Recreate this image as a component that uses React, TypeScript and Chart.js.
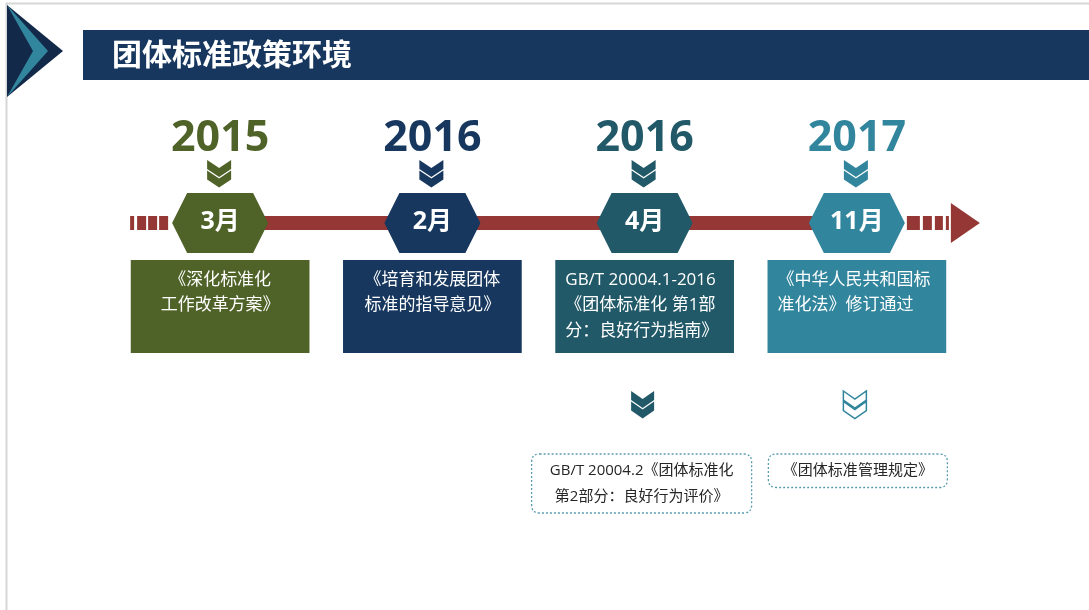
import React, { useEffect, useRef } from "react";
import { Chart, registerables } from "chart.js";

Chart.register(...registerables);

// ---------- data ----------
const title = "团体标准政策环境";
const years = ["2015", "2016", "2016", "2017"];
const months = ["3月", "2月", "4月", "11月"];
const policyLines: string[][] = [
  ["《深化标准化", "工作改革方案》"],
  ["《培育和发展团体", "标准的指导意见》"],
  ["GB/T 20004.1-2016", "《团体标准化 第1部", "分：良好行为指南》"],
  ["《中华人民共和国标", "准化法》修订通过"],
];
const followUpLines: string[][] = [
  [],
  [],
  ["GB/T 20004.2《团体标准化", "第2部分：良好行为评价》"],
  ["《团体标准管理规定》"],
];

// ---------- styles ----------
const colors = ["#4f6228", "#17375e", "#215968", "#31859c"];
const policyAlign: CanvasTextAlign[] = ["center", "center", "left", "left"];
const followUpChevronFilled = [true, true, true, false];
const RED = "#953735";
const NAVY = "#17375e";
const DARK_NAVY = "#13294a";
const TEAL = "#31859c";
const FRAME = "#d6d6d6";

// ---------- layout ----------
const W = 1089;
const H = 610;
const PAD_LEFT = 114;
const PAD_RIGHT = 126;
const BOX_TOP = 260;
const BOX_BOTTOM = 353;
const HEX_CY = 223;
const HEX_HALF_W = 48;
const HEX_FLAT = 33;
const HEX_HALF_H = 30;
const BAR_HALF = 7;
const YEAR_BASELINE = 151;
const CHEV_TOP = 160;
const TEXT_LINE0 = 280;
const TEXT_STEP = 25.5;
const TEXT_PAD = 10;
const LOW_CHEV_TOP = 391;
const LOW_CHEV_DX = -2;
const LOW_BOX_TOP = 454;
const LOW_BOX_W = [0, 0, 220, 179];
const LOW_BOX_DX = [0, 0, -3, 1];
const LEFT_DASHES = [[-90, -86], [-83, -74], [-72, -63], [-61, -52]];
const RIGHT_DASHES = [[50, 63], [66, 75], [78, 86], [89, 92]];
const ARROW = { base: 94, tip: 123, half: 20 };

const FONT_LATIN_CJK = '"Open Sans", "Noto Sans CJK SC", sans-serif';

function chevronPath(ctx: CanvasRenderingContext2D, cx: number, top: number, w: number) {
  const half = w / 2;
  const sag = 8;
  const t = 9;
  const gap = 10.5;
  ctx.beginPath();
  for (let k = 0; k < 2; k++) {
    const y = top + k * gap;
    ctx.moveTo(cx - half, y);
    ctx.lineTo(cx, y + sag);
    ctx.lineTo(cx + half, y);
    ctx.lineTo(cx + half, y + t);
    ctx.lineTo(cx, y + sag + t);
    ctx.lineTo(cx - half, y + t);
    ctx.closePath();
  }
}

function roundRect(ctx: CanvasRenderingContext2D, x: number, y: number, w: number, h: number, r: number) {
  ctx.beginPath();
  ctx.moveTo(x + r, y);
  ctx.lineTo(x + w - r, y);
  ctx.quadraticCurveTo(x + w, y, x + w, y + r);
  ctx.lineTo(x + w, y + h - r);
  ctx.quadraticCurveTo(x + w, y + h, x + w - r, y + h);
  ctx.lineTo(x + r, y + h);
  ctx.quadraticCurveTo(x, y + h, x, y + h - r);
  ctx.lineTo(x, y + r);
  ctx.quadraticCurveTo(x, y, x + r, y);
  ctx.closePath();
}

const infographic = {
  id: "infographic",
  beforeDatasetsDraw(chart: any) {
    const ctx: CanvasRenderingContext2D = chart.ctx;
    const xs = chart.scales.x;
    const ys = chart.scales.y;
    const Y = (v: number) => ys.getPixelForValue(v);
    const cx = (i: number) => xs.getPixelForValue(i);
    ctx.save();

    // frame
    ctx.strokeStyle = FRAME;
    ctx.lineWidth = 2;
    ctx.beginPath();
    ctx.moveTo(6.5, H);
    ctx.lineTo(6.5, 3.5);
    ctx.lineTo(W, 3.5);
    ctx.stroke();

    // left decorative arrow
    ctx.fillStyle = DARK_NAVY;
    ctx.beginPath();
    ctx.moveTo(7, 5);
    ctx.lineTo(63, 51);
    ctx.lineTo(7, 97);
    ctx.closePath();
    ctx.fill();
    ctx.fillStyle = TEAL;
    ctx.beginPath();
    ctx.moveTo(7, 5);
    ctx.lineTo(48, 51);
    ctx.lineTo(7, 97);
    ctx.lineTo(33, 51);
    ctx.closePath();
    ctx.fill();

    // title banner
    ctx.fillStyle = NAVY;
    ctx.fillRect(83, 30, W - 83, 50);
    ctx.fillStyle = "#ffffff";
    ctx.font = 'bold 30px "Noto Sans CJK SC", sans-serif';
    ctx.textAlign = "left";
    ctx.textBaseline = "middle";
    ctx.fillText(title, 112, 54);

    // timeline bar
    const first = cx(0);
    const last = cx(years.length - 1);
    const yTop = Y(HEX_CY - BAR_HALF);
    const yBot = Y(HEX_CY + BAR_HALF);
    ctx.fillStyle = RED;
    ctx.fillRect(first - HEX_HALF_W + 4, yTop, last - first + 2 * HEX_HALF_W - 8, yBot - yTop);
    LEFT_DASHES.forEach(([a, b]) => ctx.fillRect(first + a, yTop, b - a, yBot - yTop));
    RIGHT_DASHES.forEach(([a, b]) => ctx.fillRect(last + a, yTop, b - a, yBot - yTop));
    ctx.beginPath();
    ctx.moveTo(last + ARROW.base, Y(HEX_CY - ARROW.half));
    ctx.lineTo(last + ARROW.tip, Y(HEX_CY));
    ctx.lineTo(last + ARROW.base, Y(HEX_CY + ARROW.half));
    ctx.closePath();
    ctx.fill();
    ctx.restore();
  },
  afterDatasetsDraw(chart: any) {
    const ctx: CanvasRenderingContext2D = chart.ctx;
    const xs = chart.scales.x;
    const ys = chart.scales.y;
    const Y = (v: number) => ys.getPixelForValue(v);
    ctx.save();
    const meta = chart.getDatasetMeta(0);

    years.forEach((year, i) => {
      const c = xs.getPixelForValue(i);
      const col = colors[i];

      // year
      ctx.fillStyle = col;
      ctx.font = `bold 43px ${FONT_LATIN_CJK}`;
      ctx.textAlign = "center";
      ctx.textBaseline = "alphabetic";
      ctx.fillText(year, c, Y(YEAR_BASELINE));

      // chevron under year
      chevronPath(ctx, c - 1, Y(CHEV_TOP), 24);
      ctx.fill();

      // hexagon
      ctx.beginPath();
      ctx.moveTo(c - HEX_HALF_W, Y(HEX_CY));
      ctx.lineTo(c - HEX_FLAT, Y(HEX_CY - HEX_HALF_H));
      ctx.lineTo(c + HEX_FLAT, Y(HEX_CY - HEX_HALF_H));
      ctx.lineTo(c + HEX_HALF_W, Y(HEX_CY));
      ctx.lineTo(c + HEX_FLAT, Y(HEX_CY + HEX_HALF_H));
      ctx.lineTo(c - HEX_FLAT, Y(HEX_CY + HEX_HALF_H));
      ctx.closePath();
      ctx.fill();

      // month
      ctx.fillStyle = "#ffffff";
      ctx.font = `bold 25px ${FONT_LATIN_CJK}`;
      ctx.textBaseline = "middle";
      ctx.fillText(months[i], c, Y(HEX_CY - 1));

      // policy text inside the box
      const bar = meta.data[i];
      const left = bar.x - bar.width / 2;
      ctx.font = `17px ${FONT_LATIN_CJK}`;
      ctx.textAlign = policyAlign[i];
      const tx = policyAlign[i] === "center" ? bar.x : left + TEXT_PAD;
      policyLines[i].forEach((line, k) => {
        ctx.fillText(line, tx, Y(TEXT_LINE0 + k * TEXT_STEP));
      });

      // follow-up
      const fl = followUpLines[i];
      if (fl.length) {
        const lc = c + LOW_CHEV_DX;
        chevronPath(ctx, lc, Y(LOW_CHEV_TOP), 23);
        if (followUpChevronFilled[i]) {
          ctx.fillStyle = col;
          ctx.fill();
        } else {
          ctx.fillStyle = "#ffffff";
          ctx.fill();
          ctx.strokeStyle = col;
          ctx.lineWidth = 1.5;
          ctx.stroke();
        }
        const bw = LOW_BOX_W[i];
        const bh = 8 + fl.length * TEXT_STEP;
        const bx = c + LOW_BOX_DX[i] - bw / 2;
        roundRect(ctx, bx, Y(LOW_BOX_TOP), bw, bh, 8);
        ctx.fillStyle = "#ffffff";
        ctx.fill();
        ctx.setLineDash([2, 2]);
        ctx.strokeStyle = "#5b9db0";
        ctx.lineWidth = 1.3;
        ctx.stroke();
        ctx.setLineDash([]);
        ctx.fillStyle = "#262626";
        ctx.font = `15px ${FONT_LATIN_CJK}`;
        ctx.textAlign = "center";
        ctx.textBaseline = "middle";
        fl.forEach((line, k) => {
          ctx.fillText(line, bx + bw / 2, Y(LOW_BOX_TOP + 16.5 + k * 26));
        });
      }
    });
    ctx.restore();
  },
};

export default function App() {
  const ref = useRef<HTMLCanvasElement>(null);
  useEffect(() => {
    document.body.style.margin = "0";
    const chart = new Chart(ref.current as HTMLCanvasElement, {
      type: "bar",
      data: {
        labels: months,
        datasets: [
          {
            data: months.map(() => [BOX_TOP, BOX_BOTTOM]) as any,
            backgroundColor: colors,
            borderWidth: 0,
            barPercentage: 0.842,
            categoryPercentage: 1,
          },
        ],
      },
      options: {
        responsive: false,
        animation: false,
        devicePixelRatio: 1,
        events: [],
        layout: { padding: { left: PAD_LEFT, right: PAD_RIGHT, top: 0, bottom: 0 } },
        scales: {
          x: { type: "category", display: false, offset: true },
          y: { type: "linear", display: false, min: 0, max: H, reverse: true },
        },
        plugins: { legend: { display: false }, tooltip: { enabled: false }, title: { display: false } },
      },
      plugins: [infographic],
    });
    return () => chart.destroy();
  }, []);
  return (
    <div style={{ position: "absolute", left: 0, top: 0, width: W, height: H, background: "#ffffff" }}>
      <canvas ref={ref} width={W} height={H} style={{ display: "block" }} />
    </div>
  );
}
